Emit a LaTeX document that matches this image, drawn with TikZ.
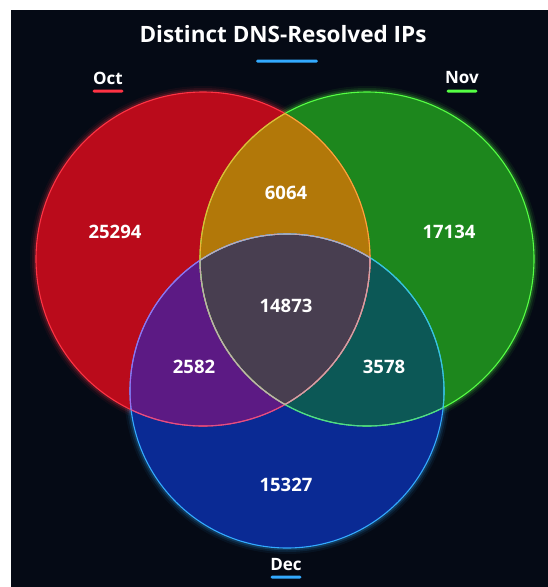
\documentclass[tikz,border=0pt]{standalone}
\usepackage{fontspec}
\setmainfont{Open Sans}
\usetikzlibrary{positioning}
\definecolor{VennBg}{HTML}{050A15}
\definecolor{OctFill}{HTML}{BA0B1B}
\definecolor{NovFill}{HTML}{1D871D}
\definecolor{DecFill}{HTML}{0A2A94}
\definecolor{OctNovFill}{HTML}{B27809}
\definecolor{OctDecFill}{HTML}{5C1A84}
\definecolor{NovDecFill}{HTML}{0C5856}
\definecolor{AllFill}{HTML}{483E50}
\definecolor{OctLine}{HTML}{FF3344}
\definecolor{NovLine}{HTML}{55FF44}
\definecolor{DecLine}{HTML}{33AAFF}
\definecolor{GoldLine}{HTML}{F2B233}
\definecolor{PinkLine}{HTML}{E0508A}
\definecolor{MintLine}{HTML}{50D890}
\definecolor{VioletLine}{HTML}{9A6CF0}
\definecolor{CyanLine}{HTML}{38C8D8}
\definecolor{PaleLine}{HTML}{C8A8B0}
\def\octc{(203,259) circle (167pt)}
\def\novc{(367,259) circle (167pt)}
\def\decc{(287,391) circle (157pt)}
\begin{document}
\begin{tikzpicture}[x=1pt, y=-1pt, every node/.style={text=white}, count/.style={font=\bfseries\fontsize{18.5}{22}\selectfont}, tag/.style={font=\bfseries\fontsize{17}{20}\selectfont, inner sep=1pt}, bar/.style={minimum width=31pt, minimum height=3pt, inner sep=0pt, rounded corners=1.5pt}, rim/.style={line width=1.1pt}]
\useasboundingbox (0,0) rectangle (548,587);
\fill[white] (0,0) rectangle (548,587);
\fill[VennBg] (11,10) rectangle (548,587);
\foreach \w/\o in {12/0.06, 8/0.1, 4.5/0.18} {\draw[OctLine, line width=\w pt, opacity=\o] \octc; \draw[NovLine, line width=\w pt, opacity=\o] \novc; \draw[DecLine, line width=\w pt, opacity=\o] \decc;}
\fill[OctFill] \octc;
\fill[NovFill] \novc;
\fill[DecFill] \decc;
\begin{scope} \clip \octc; \fill[OctNovFill] \novc; \fill[OctDecFill] \decc; \end{scope}
\begin{scope} \clip \novc; \fill[NovDecFill] \decc; \end{scope}
\begin{scope} \clip \octc; \clip \novc; \fill[AllFill] \decc; \end{scope}
\draw[rim, OctLine] \octc; \draw[rim, NovLine] \novc; \draw[rim, DecLine] \decc;
\begin{scope} \clip \novc; \draw[rim, GoldLine] \octc; \end{scope}
\begin{scope} \clip \octc; \draw[rim, GoldLine] \novc; \end{scope}
\begin{scope} \clip \decc; \draw[rim, PinkLine] \octc; \draw[rim, MintLine] \novc; \end{scope}
\begin{scope} \clip \octc; \draw[rim, VioletLine] \decc; \end{scope}
\begin{scope} \clip \novc; \draw[rim, CyanLine] \decc; \end{scope}
\begin{scope} \clip \novc; \clip \decc; \draw[rim, PaleLine] \octc; \end{scope}
\begin{scope} \clip \octc; \clip \decc; \draw[rim, PaleLine] \novc; \end{scope}
\begin{scope} \clip \octc; \clip \novc; \draw[rim, PaleLine] \decc; \end{scope}
\node[font=\bfseries\fontsize{22.5}{27}\selectfont] (title) at (283,34) {Distinct DNS-Resolved IPs};
\node[bar, minimum width=62pt, fill=DecLine] (titlebar) at (287,61) {};
\node[tag] (oct) at (108,78) {Oct};
\node[bar, fill=OctLine] (octbar) [below=4pt of oct] {};
\node[tag] (nov) at (462,78) {Nov};
\node[bar, fill=NovLine] (novbar) [below=4pt of nov] {};
\node[tag] (dec) at (286,565) {Dec};
\node[bar, fill=DecLine] (decbar) [below=3pt of dec] {};
\node[count] (octonly) at (115,232) {25294};
\node[count] (novonly) at (449,232) {17134};
\node[count] (octnov) at (286,193) {6064};
\node[count] (all) at (286,306) {14873};
\node[count] (octdec) at (194,367) {2582};
\node[count] (novdec) at (384,367) {3578};
\node[count] (deconly) at (286,485) {15327};
\end{tikzpicture}
\end{document}
